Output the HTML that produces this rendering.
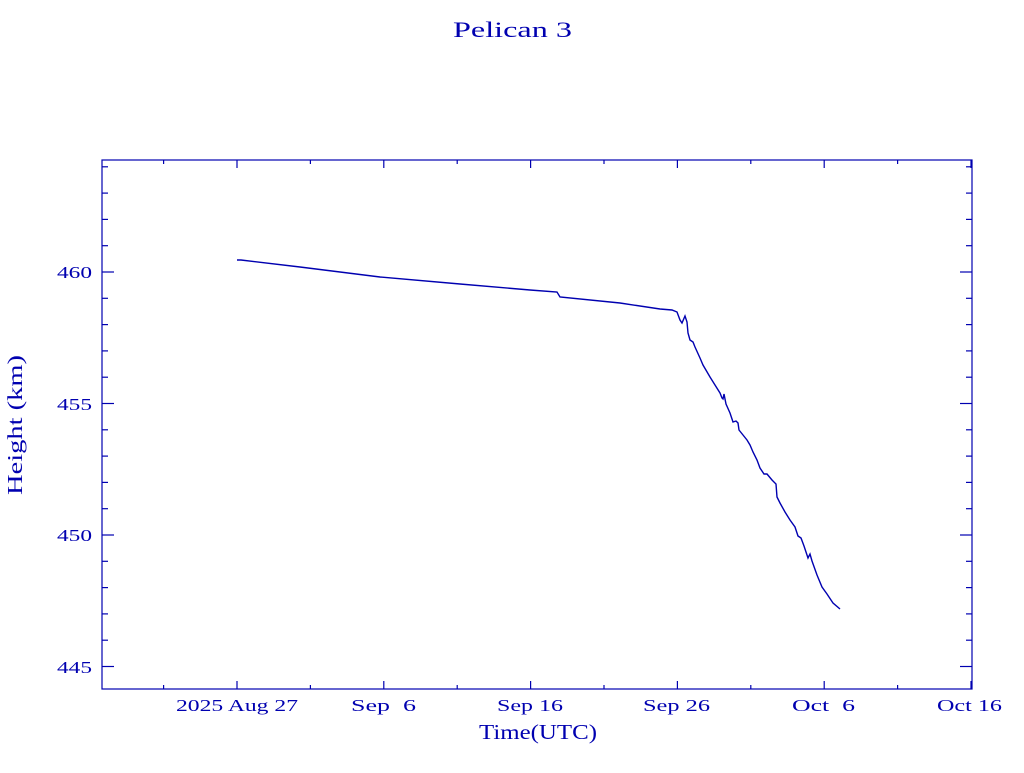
<!DOCTYPE html>
<html><head><meta charset="utf-8"><style>
html,body{margin:0;padding:0;background:#fff;}
svg text{font-family:"Liberation Serif",serif;fill:#0000b0;}
</style></head><body>
<svg id="s" width="1024" height="768" xmlns="http://www.w3.org/2000/svg">
<rect x="102" y="160" width="870" height="529" fill="none" stroke="#0000b0" stroke-width="1.2"/>
<text x="453" y="37" font-size="22" textLength="119" lengthAdjust="spacingAndGlyphs">Pelican 3</text>
<text x="479" y="739" font-size="21" textLength="118" lengthAdjust="spacingAndGlyphs">Time(UTC)</text>
<text transform="translate(22,495) rotate(-90)" font-size="21" textLength="140" lengthAdjust="spacingAndGlyphs">Height (km)</text>
<g id="t" stroke="#0000b0" stroke-width="1.2"></g>
<g id="l" font-size="17"></g>
<polyline fill="none" stroke="#0000b0" stroke-width="1.4" points="237,260 241,260 300,267 380,277 460,284 530,290 557,292 560,297 620,303 660,309 672,310 677,312 680,320 682,323 685,316 687,322 688,333 690,340 693,342 695,347 700,358 703,365 710,377 715,385 720,393 722,398 723,399 724,394 726,404 730,413 733,422 736,421 738,423 739,430 747,440 750,445 753,452 757,460 760,468 764,474 767,474 772,480 776,484 777,497 780,503 785,512 790,520 795,527 798,536 801,538 804,546 808,558 810,554 812,561 817,575 822,587 827,594 833,603 840,609"/>
</svg>
<script>
var t=document.getElementById('t'),l=document.getElementById('l'),h='';
function ln(a,b,c,d){h+='<line x1="'+a+'" y1="'+b+'" x2="'+c+'" y2="'+d+'"/>';}
var pk=26.3;
for(var v=445;v<=464;v++){var y=272+(460-v)*pk;var L=(v%5==0)?12:6;ln(102,y,102+L,y);ln(972,y,972-L,y);}
var pd=14.68;
for(var d=-10;d<=50;d+=5){var x=237+d*pd;if(x<103||x>972)continue;var L=(d%10==0)?8:4;ln(x,689,x,689-L);ln(x,160,x,160+L);}
t.innerHTML=h;
var s='';
[[460,272],[455,404],[450,535],[445,667]].forEach(function(p){s+='<text x="57" y="'+(p[1]+6)+'" textLength="35" lengthAdjust="spacingAndGlyphs">'+p[0]+'</text>';});
[['2025 Aug 27',176,122],['Sep  6',351,65],['Sep 16',497,66],['Sep 26',643,67],['Oct  6',792,63],['Oct 16',937,65]].forEach(function(p){s+='<text x="'+p[1]+'" y="711" textLength="'+p[2]+'" lengthAdjust="spacingAndGlyphs" xml:space="preserve">'+p[0]+'</text>';});
l.innerHTML=s;
</script>
</body></html>
